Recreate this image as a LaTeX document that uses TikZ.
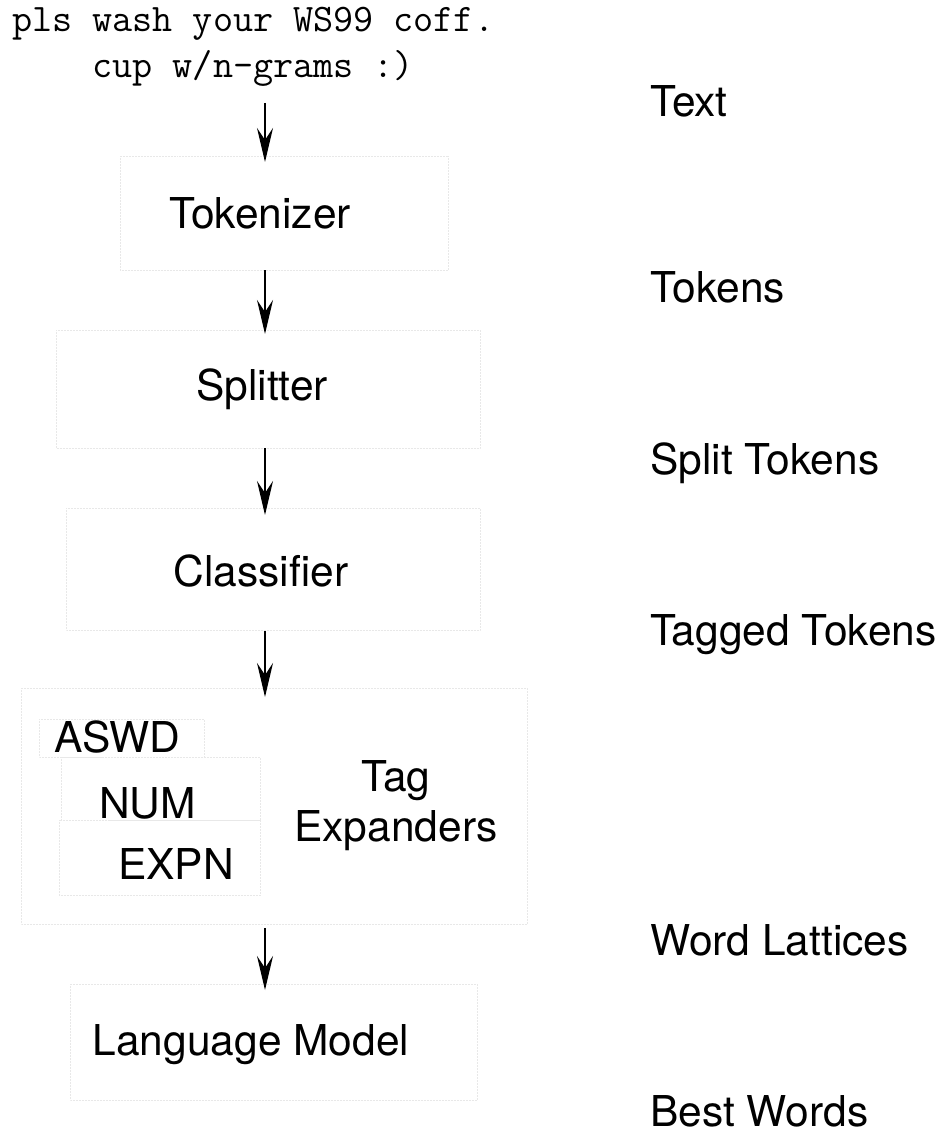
\documentclass[tikz,border=0pt]{standalone}
\usepackage{fontspec}
\setmainfont{TeX Gyre Heros}
\usetikzlibrary{arrows.meta}

\begin{document}
\begin{tikzpicture}[x=1pt,y=-1pt,
  stage/.style={inner sep=0pt,font=\fontsize{42.5}{50}\selectfont},
  stream/.style={stage,anchor=base west},
  ghost/.style={draw=black!9,densely dotted,line width=0.5pt},
  flow/.style={line width=1.6pt,-{Stealth[length=34pt,width=16pt,inset=12pt]}}]

\useasboundingbox (0,0) rectangle (951,1137);

% light outlines of the boxes
\draw[ghost] (120,156) rectangle (448,270);
\draw[ghost] (56,330) rectangle (480,448);
\draw[ghost] (66,508) rectangle (480,630);
\draw[ghost] (21,688) rectangle (527,924);
\draw[ghost] (39,719) rectangle (204,757);
\draw[ghost] (61,757) rectangle (260,820);
\draw[ghost] (59,820) rectangle (260,895);
\draw[ghost] (70,984) rectangle (477,1100);

\node[anchor=north west,inner sep=0pt,align=left,
      font=\ttfamily\fontsize{39}{46}\selectfont] (input) at (12,7)
  {pls wash your WS99 coff.\\\hphantom{pls\ }cup w/n-grams :)};

\node[stage,anchor=base] (tokenizer) at (260,228) {Tokenizer};
\node[stage,anchor=base] (splitter) at (262,400) {Splitter};
\node[stage,anchor=base] (classifier) at (261,586) {Classifier};
\node[stream] (aswd) at (54,752) {ASWD};
\node[stream] (num) at (99,818) {NUM};
\node[stream] (expn) at (118,879) {EXPN};
\node[stage,align=center] (expanders) at (396,806) {Tag\\Expanders};
\node[stage,anchor=base] (langmodel) at (251,1055) {Language Model};

% data between the stages
\node[stream] (text) at (650,117) {Text};
\node[stream] (tokens) at (650,302) {Tokens};
\node[stream] (split) at (650,474) {Split Tokens};
\node[stream] (tagged) at (650,645) {Tagged Tokens};
\node[stream] (lattices) at (650,955) {Word Lattices};
\node[stream] (best) at (650,1126) {Best Words};

\coordinate (a1) at (265,103);  \coordinate (b1) at (265,162);
\coordinate (a2) at (265,270);  \coordinate (b2) at (265,334);
\coordinate (a3) at (265,448);  \coordinate (b3) at (265,515);
\coordinate (a4) at (265,631);  \coordinate (b4) at (265,697);
\coordinate (a5) at (265,928);  \coordinate (b5) at (265,990);

\foreach \i in {1,...,5}
  \draw[flow] (a\i) -- (b\i);

\end{tikzpicture}
\end{document}
